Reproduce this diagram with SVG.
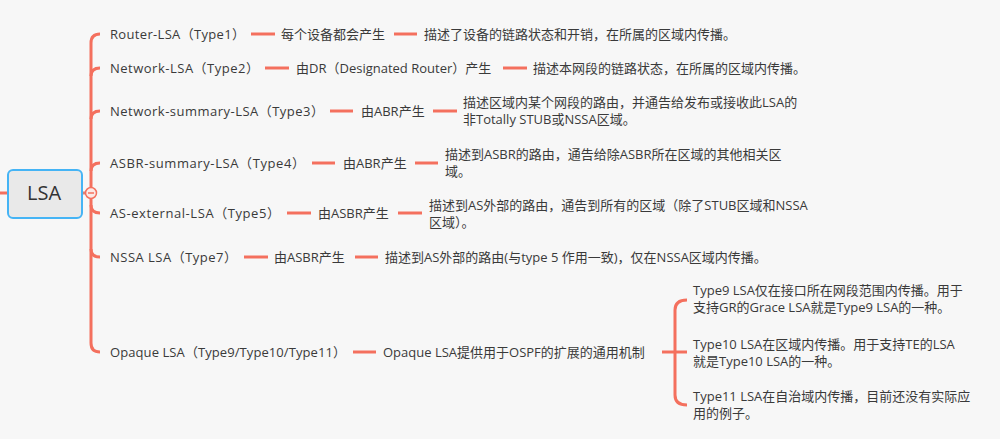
<svg xmlns="http://www.w3.org/2000/svg" width="1000" height="439" viewBox="0 0 1000 439">
<style>
text{font-family:"Open Sans","Noto Sans CJK SC",sans-serif;font-size:13px;fill:#3a3a3a}
.ln{stroke:#F4705E;stroke-width:3;fill:none;stroke-linecap:butt}
.root{font-size:20px;fill:#333}
</style>
<rect width="1000" height="439" fill="#f7f7f7"/>
<g id="connectors">
<line class="ln" x1="0" y1="193" x2="8" y2="193"/>
<line x1="80" y1="193" x2="87" y2="193" stroke="#d98478" stroke-width="3"/>
<path class="ln" d="M100,34 Q91,34 91,43 L91,343 Q91,352 100,352"/>
<path class="ln" d="M91,76 Q91,68 100,68"/>
<path class="ln" d="M91,119 Q91,111 100,111"/>
<path class="ln" d="M91,171 Q91,163 100,163"/>
<path class="ln" d="M91,205 Q91,213 100,213"/>
<path class="ln" d="M91,249 Q91,257 100,257"/>
<line class="ln" x1="251" y1="34" x2="275" y2="34"/>
<line class="ln" x1="394" y1="34" x2="417" y2="34"/>
<line class="ln" x1="265" y1="68" x2="289" y2="68"/>
<line class="ln" x1="503" y1="68" x2="527" y2="68"/>
<line class="ln" x1="330" y1="111" x2="353" y2="111"/>
<line class="ln" x1="433" y1="111" x2="457" y2="111"/>
<line class="ln" x1="312" y1="163" x2="335" y2="163"/>
<line class="ln" x1="415" y1="163" x2="438" y2="163"/>
<line class="ln" x1="287" y1="213" x2="311" y2="213"/>
<line class="ln" x1="398" y1="213" x2="422" y2="213"/>
<line class="ln" x1="244" y1="257" x2="268" y2="257"/>
<line class="ln" x1="355" y1="257" x2="378" y2="257"/>
<line class="ln" x1="353" y1="352" x2="376" y2="352"/>
<line class="ln" x1="662" y1="352" x2="687" y2="352"/>
<path class="ln" d="M687,300 Q675,300 675,310 L675,395 Q675,405 687,405"/>
</g>
<g id="root">
<rect x="8" y="170" width="74" height="48" rx="5" fill="#e9e9e9" stroke="#45b4f5" stroke-width="2"/>
<text class="root" x="44" y="200" text-anchor="middle">LSA</text>
<circle cx="91" cy="193" r="5.5" fill="#fbe9e6" stroke="#F4705E" stroke-width="1.5"/>
<line x1="88" y1="193" x2="94" y2="193" stroke="#F4705E" stroke-width="1.5"/>
</g>
<g id="type1">
<text x="110" y="38.5" textLength="135" lengthAdjust="spacing">Router-LSA（Type1）</text>
<text x="281" y="38.5">每个设备都会产生</text>
<text x="424" y="38.5">描述了设备的链路状态和开销，在所属的区域内传播。</text>
</g>
<g id="type2">
<text x="110" y="72.5" textLength="149" lengthAdjust="spacing">Network-LSA（Type2）</text>
<text x="296" y="72.5">由DR（Designated Router）产生</text>
<text x="533" y="72.5">描述本网段的链路状态，在所属的区域内传播。</text>
</g>
<g id="type3">
<text x="110" y="115.5" textLength="214" lengthAdjust="spacing">Network-summary-LSA（Type3）</text>
<text x="361" y="115.5">由ABR产生</text>
<text x="463" y="107">描述区域内某个网段的路由，并通告给发布或接收此LSA的</text>
<text x="463" y="124">非Totally STUB或NSSA区域。</text>
</g>
<g id="type4">
<text x="110" y="167.5" textLength="195" lengthAdjust="spacing">ASBR-summary-LSA（Type4）</text>
<text x="343" y="167.5">由ABR产生</text>
<text x="445" y="159">描述到ASBR的路由，通告给除ASBR所在区域的其他相关区</text>
<text x="445" y="176">域。</text>
</g>
<g id="type5">
<text x="110" y="217.5" textLength="170" lengthAdjust="spacing">AS-external-LSA（Type5）</text>
<text x="318" y="217.5">由ASBR产生</text>
<text x="429" y="210">描述到AS外部的路由，通告到所有的区域（除了STUB区域和NSSA</text>
<text x="429" y="227">区域）。</text>
</g>
<g id="type7">
<text x="110" y="261.5" textLength="127" lengthAdjust="spacing">NSSA LSA（Type7）</text>
<text x="274" y="261.5">由ASBR产生</text>
<text x="385" y="261.5">描述到AS外部的路由(与type 5 作用一致)，仅在NSSA区域内传播。</text>
</g>
<g id="opaque">
<text x="110" y="356.5" textLength="236" lengthAdjust="spacing">Opaque LSA（Type9/Type10/Type11）</text>
<text x="383" y="356.5">Opaque LSA提供用于OSPF的扩展的通用机制</text>
</g>
<g id="type9">
<text x="693" y="295">Type9 LSA仅在接口所在网段范围内传播。用于</text>
<text x="693" y="312">支持GR的Grace LSA就是Type9 LSA的一种。</text>
</g>
<g id="type10">
<text x="693" y="349">Type10 LSA在区域内传播。用于支持TE的LSA</text>
<text x="693" y="366">就是Type10 LSA的一种。</text>
</g>
<g id="type11">
<text x="693" y="401">Type11 LSA在自治域内传播，目前还没有实际应</text>
<text x="693" y="418">用的例子。</text>
</g>
</svg>
